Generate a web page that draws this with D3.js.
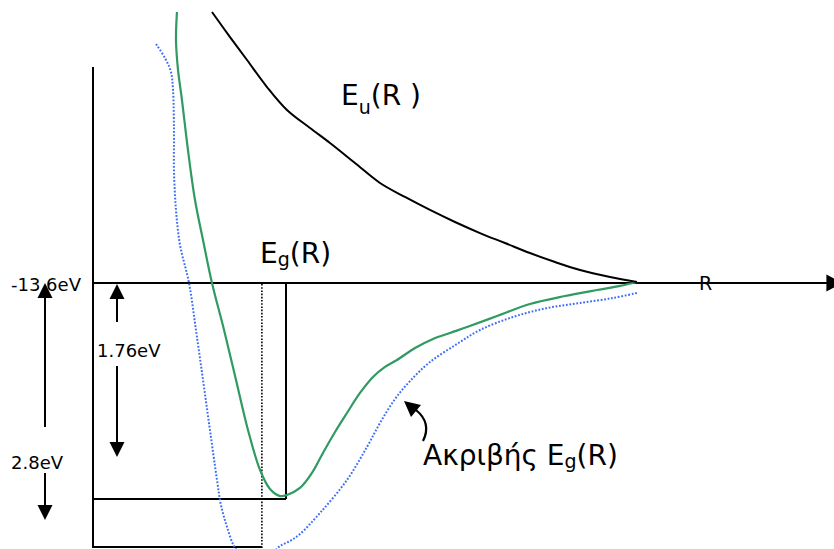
<!DOCTYPE html>
<html>
<head>
<meta charset="utf-8">
<script src="https://cdn.jsdelivr.net/npm/d3@7"></script>
<style>
  html, body { margin: 0; padding: 0; background: #fff; }
  svg { display: block; font-family: "DejaVu Sans", Verdana, sans-serif; }
</style>
</head>
<body>
<svg id="chart" width="834" height="549"></svg>
<script>
// Potential energy of H2+ versus internuclear distance R (R in bohr, E in eV)

// Dissociation limit and binding depths
const atomLevel = -13.6;          // H atom ground state
const lcaoDepth = 1.76;            // LCAO binding energy
const exactDepth = 2.8;            // exact binding energy
const lcaoMinR = 2.0;              // LCAO equilibrium distance
const exactMinR = 1.75;            // exact equilibrium distance

// Antibonding curve E_u(R)
const eu = [
  [1.233, -11.392], [1.420, -11.596], [1.596, -11.783], [1.803, -12.003],
  [2.010, -12.190], [2.249, -12.337], [2.456, -12.459], [2.715, -12.622],
  [2.974, -12.785], [3.233, -12.899], [3.492, -13.005], [3.751, -13.103],
  [4.010, -13.193], [4.269, -13.274], [4.528, -13.356], [4.788, -13.429],
  [5.047, -13.494], [5.358, -13.551], [5.637, -13.592]
];

// Bonding curve E_g(R), LCAO approximation
const egLcao = [
  [0.870, -11.392], [0.860, -11.620], [0.881, -11.864], [0.922, -12.109],
  [0.984, -12.516], [1.057, -12.924], [1.140, -13.250], [1.233, -13.600],
  [1.358, -13.983], [1.482, -14.390], [1.606, -14.798], [1.731, -15.124],
  [1.834, -15.279], [1.938, -15.336], [2.010, -15.327], [2.145, -15.270],
  [2.269, -15.148], [2.383, -14.985], [2.508, -14.814], [2.632, -14.659],
  [2.767, -14.496], [2.902, -14.366], [3.026, -14.284], [3.150, -14.227],
  [3.337, -14.130], [3.523, -14.056], [3.699, -14.007], [3.876, -13.959],
  [4.187, -13.869], [4.528, -13.771], [4.891, -13.706], [5.223, -13.657],
  [5.461, -13.624], [5.637, -13.592]
];

// Bonding curve E_g(R), exact
const egExact = [
  [0.653, -11.653], [0.746, -11.767], [0.808, -11.881], [0.829, -12.027],
  [0.839, -12.353], [0.839, -12.679], [0.860, -13.005], [0.902, -13.290],
  [0.995, -13.600], [1.067, -13.983], [1.140, -14.390], [1.212, -14.798],
  [1.285, -15.205], [1.326, -15.490], [1.389, -15.967], [1.461, -16.378],
  [1.544, -16.595], [1.648, -16.703], [1.751, -16.703], [1.845, -16.573],
  [1.938, -16.378], [2.041, -16.270], [2.145, -16.118], [2.352, -15.663],
  [2.632, -15.205], [2.839, -14.936], [2.974, -14.741], [3.130, -14.545],
  [3.285, -14.399], [3.492, -14.244], [3.772, -14.097], [4.010, -13.983],
  [4.352, -13.877], [4.705, -13.804], [5.047, -13.763], [5.389, -13.722],
  [5.637, -13.681]
];

const lcaoLevel = atomLevel - lcaoDepth;
const exactLevel = atomLevel - exactDepth;

const svg = d3.select("#chart");
const W = 834, H = 549;

svg.append("defs").append("clipPath").attr("id", "frame")
  .append("rect").attr("width", W).attr("height", H);

// Schematic scales: the energy axis is piecewise so both binding depths fit
const x = d3.scaleLinear().domain([0, lcaoMinR]).range([93, 286]);
const y = d3.scaleLinear()
  .domain([exactLevel, lcaoLevel, atomLevel])
  .range([547, 499, 283]);

const g = svg.append("g").attr("clip-path", "url(#frame)");

const seg = (x1, y1, x2, y2) => g.append("line")
  .attr("x1", x1).attr("y1", y1).attr("x2", x2).attr("y2", y2)
  .attr("stroke", "#000").attr("stroke-width", 2);

// Energy axis and R axis
seg(x(0), y(-11.84), x(0), y(exactLevel) + 1);
seg(x(0), y(atomLevel), x(7.62), y(atomLevel));
g.append("path")
  .attr("d", `M${x(7.60)},${y(atomLevel) - 8.5} L${x(7.77)},${y(atomLevel)} L${x(7.60)},${y(atomLevel) + 8.5} Z`)
  .attr("fill", "#000");

// LCAO minimum box
seg(x(0), y(lcaoLevel), x(lcaoMinR), y(lcaoLevel));
seg(x(lcaoMinR), y(atomLevel), x(lcaoMinR), y(lcaoLevel));
// Exact minimum level
seg(x(0), y(exactLevel), x(exactMinR), y(exactLevel));
g.append("line")
  .attr("x1", x(exactMinR)).attr("x2", x(exactMinR))
  .attr("y1", y(atomLevel) + 1).attr("y2", H)
  .attr("stroke", "#000").attr("stroke-width", 1.6)
  .attr("stroke-dasharray", "1.6,1.6");

const line = d3.line()
  .x(d => x(d[0])).y(d => y(d[1]))
  .curve(d3.curveCatmullRom.alpha(0.5));

g.append("path").datum(egExact).attr("d", line)
  .attr("fill", "none").attr("stroke", "#3d6ef5")
  .attr("stroke-width", 2).attr("stroke-dasharray", "1.8,1.7");

g.append("path").datum(egLcao).attr("d", line)
  .attr("fill", "none").attr("stroke", "#2f9a62").attr("stroke-width", 2.2);

g.append("path").datum(eu).attr("d", line)
  .attr("fill", "none").attr("stroke", "#000").attr("stroke-width", 2);

// Vertical double arrows marking the binding energies
function arrowUp(px, tip, end) {
  g.append("path").attr("d", `M${px - 7.5},${tip + 15} L${px},${tip} L${px + 7.5},${tip + 15} Z`).attr("fill", "#000");
  seg(px, tip + 14, px, end);
}
function arrowDown(px, start, tip) {
  g.append("path").attr("d", `M${px - 7.5},${tip - 15} L${px},${tip} L${px + 7.5},${tip - 15} Z`).attr("fill", "#000");
  seg(px, start, px, tip - 14);
}
arrowUp(45, y(atomLevel), 427);
arrowDown(45, 473, 520);
arrowUp(117, y(atomLevel) + 1, 322);
arrowDown(117, 366, 457);

// Curved pointer to the exact curve
g.append("path")
  .attr("d", "M423,441 C429,429 427,419 416,410")
  .attr("fill", "none").attr("stroke", "#000").attr("stroke-width", 2.2);
g.append("path")
  .attr("d", "M404,401 L421,405 L411,417 Z")
  .attr("fill", "#000");

// Labels
const txt = (tx, ty, size) => svg.append("text")
  .attr("x", tx).attr("y", ty).attr("font-size", size).attr("fill", "#000");

txt(11, 291, 18).text("-13.6eV");
txt(97, 357, 18).text("1.76eV");
txt(11, 469, 18).text("2.8eV");
txt(699, 290, 19).text("R");

function subLabel(tx, ty, main, sub, rest, shift) {
  const t = txt(tx, ty, 28);
  t.append("tspan").text(main);
  t.append("tspan").attr("font-size", 19).attr("dy", shift).text(sub);
  t.append("tspan").attr("dy", -shift).text(rest);
}
subLabel(341, 105, "E", "u", "(R )", 9);
subLabel(260, 263, "E", "g", "(R)", 3);
subLabel(423, 465, "Ακριβής E", "g", "(R)", 3);
</script>
</body>
</html>
